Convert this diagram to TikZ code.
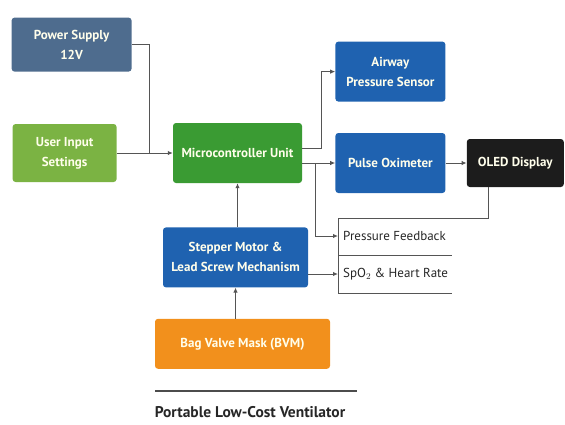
\documentclass[tikz,border=0pt]{standalone}
\usepackage{fontspec}
\setmainfont{PT Sans}
\usetikzlibrary{arrows.meta,positioning}
\definecolor{psslate}{HTML}{4E6C8E}
\definecolor{uigreen}{HTML}{7BB343}
\definecolor{mcugreen}{HTML}{3A9B33}
\definecolor{sensblue}{HTML}{1F62B0}
\definecolor{oledblack}{HTML}{1C1C1C}
\definecolor{bvmorange}{HTML}{F2901C}
\definecolor{wiregray}{HTML}{555555}

\begin{document}
\begin{tikzpicture}[x=1pt, y=1pt,
  blk/.style={rounded corners=3pt, align=center, text=white!92!yellow, inner sep=2pt,
    font=\bfseries\fontsize{13}{20}\selectfont},
  link/.style={draw=wiregray, line width=1pt, -{Latex[length=5pt,width=4.5pt]}},
  wire/.style={draw=wiregray, line width=1pt},
  note/.style={anchor=west, inner sep=5pt, text=black!85, font=\fontsize{13}{15}\selectfont}
]
\useasboundingbox (0,0) rectangle (565,-424);

\node[blk, fill=mcugreen, minimum width=129pt, minimum height=60pt] (mcu) at (237.5,-153) {Microcontroller Unit};
\node[blk, fill=uigreen, minimum width=104pt, minimum height=58pt, left=56pt of mcu] (ui) {User Input\\Settings};
\node[blk, fill=psslate, minimum width=120pt, minimum height=54pt, above=52pt of ui, xshift=7pt] (ps) {Power Supply\\12V};
\node[blk, fill=sensblue, minimum width=110pt, minimum height=60pt, right=33pt of mcu, yshift=-10pt] (po) {Pulse Oximeter};
\node[blk, fill=sensblue, minimum width=110pt, minimum height=60pt, above=31pt of po] (aps) {Airway\\Pressure Sensor};
\node[blk, fill=oledblack, minimum width=97pt, minimum height=48pt, right=21pt of po] (oled) {OLED Display};
\node[blk, fill=sensblue, minimum width=145pt, minimum height=60pt, below=44pt of mcu, xshift=-2pt] (sm) {Stepper Motor \&\\Lead Screw Mechanism};
\node[blk, fill=bvmorange, minimum width=175pt, minimum height=50pt, below=31pt of sm, xshift=7pt] (bvm) {Bag Valve Mask (BVM)};

% feedback panel
\coordinate (tabtl) at (338,-218);
\coordinate (tabml) at (338,-255);
\coordinate (tabbl) at (338,-293);
\node[note] (pf) at (338,-236) {Pressure Feedback};
\node[note] (sp) at (338,-274) {SpO$_2$ \& Heart Rate};

% inputs
\draw[wire] (ps.east) -| ([xshift=33pt]ui.east);
\draw[link] (ui.east) -- (ui.east -| mcu.west);
\draw[link] (sm.north -| mcu.south) -- (mcu.south);
\draw[link] (bvm.north -| sm.south) -- (sm.south);

% outputs
\draw[link] ([yshift=5pt]mcu.east) -- ++(19,0) |- (aps.west);
\draw[link] (mcu.east |- po.west) -- (po.west);
\draw[link] ([xshift=13pt]mcu.east |- po.west) |- (pf.west);
\draw[link] (po.east) -- (oled.west);
\draw[link] (sm.east |- sp.west) -- (sp.west);

% panel lines
\draw[wire] ([xshift=-27pt]oled.south) |- (tabtl) -- (tabbl) -- ++(114,0);
\draw[wire, line width=0.8pt] (tabml) -- ++(114,0);

% caption
\draw[wire, line width=1.2pt, draw=black!70] (155,-391) -- (357,-391);
\node[font=\bfseries\fontsize{15.5}{18}\selectfont, text=black!85] (title) at (250,-412) {Portable Low-Cost Ventilator};
\end{tikzpicture}
\end{document}
